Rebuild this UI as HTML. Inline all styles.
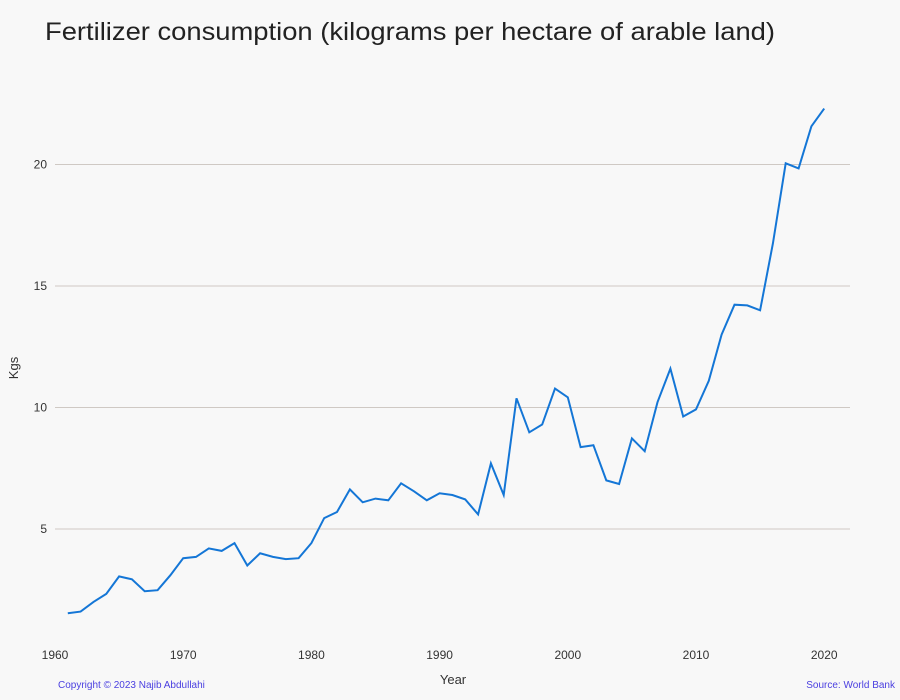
<!DOCTYPE html>
<html><head><meta charset="utf-8"><style>
body{margin:0;background:#f8f8f8;font-family:"Liberation Sans",sans-serif;}
svg{display:block}
</style></head><body>
<svg width="900" height="700">
<rect width="900" height="700" fill="#f8f8f8"/>
<text x="45" y="40" font-size="25" fill="#222" textLength="730" lengthAdjust="spacingAndGlyphs">Fertilizer consumption (kilograms per hectare of arable land)</text>
<g id="grid"></g><g id="xt"></g><g id="yt"></g>
<path id="line" fill="none" stroke="#1476d6" stroke-width="2"/>
<text x="18" y="368" font-size="13" fill="#333" transform="rotate(-90 18 368)" text-anchor="middle">Kgs</text>
<text x="453" y="684" font-size="13" fill="#333" text-anchor="middle">Year</text>
<text x="58" y="688" font-size="10" fill="#4a3fe0">Copyright © 2023 Najib Abdullahi</text>
<text x="895" y="688" font-size="10" fill="#4a3fe0" text-anchor="end">Source: World Bank</text>
</svg>
<script>
const years=[1961,1962,1963,1964,1965,1966,1967,1968,1969,1970,1971,1972,1973,1974,1975,1976,1977,1978,1979,1980,1981,1982,1983,1984,1985,1986,1987,1988,1989,1990,1991,1992,1993,1994,1995,1996,1997,1998,1999,2000,2001,2002,2003,2004,2005,2006,2007,2008,2009,2010,2011,2012,2013,2014,2015,2016,2017,2018,2019,2020];
const values=[1.53,1.6,2.0,2.33,3.05,2.93,2.44,2.48,3.1,3.8,3.85,4.2,4.1,4.42,3.5,4.0,3.85,3.76,3.8,4.42,5.45,5.7,6.63,6.1,6.25,6.18,6.88,6.55,6.18,6.47,6.4,6.22,5.6,7.7,6.4,10.38,8.98,9.3,10.78,10.42,8.37,8.45,7.0,6.85,8.73,8.2,10.22,11.6,9.63,9.92,11.1,13.0,14.23,14.2,14.0,16.75,20.05,19.84,21.57,22.3];
const xTicks=[1960,1970,1980,1990,2000,2010,2020];
const yTicks=[5,10,15,20];
const X=y=>55+(y-1960)*12.82;
const Y=v=>650.5-v*24.3;
const ns="http://www.w3.org/2000/svg";
const grid=document.getElementById('grid'),xt=document.getElementById('xt'),yt=document.getElementById('yt');
yTicks.forEach(t=>{
 const l=document.createElementNS(ns,'line');
 l.setAttribute('x1',55);l.setAttribute('x2',850);l.setAttribute('y1',Y(t));l.setAttribute('y2',Y(t));
 l.setAttribute('stroke','#cfc9c4');l.setAttribute('stroke-width','1');
 
 
 grid.appendChild(l);
 const tx=document.createElementNS(ns,'text');
 tx.setAttribute('x',47);tx.setAttribute('y',Y(t)+4);tx.setAttribute('text-anchor','end');
 tx.setAttribute('font-size','12');tx.setAttribute('fill','#333');tx.textContent=t;
 
 
 yt.appendChild(tx);
});
xTicks.forEach(t=>{
 const tx=document.createElementNS(ns,'text');
 tx.setAttribute('x',X(t));tx.setAttribute('y',659);tx.setAttribute('text-anchor','middle');
 tx.setAttribute('font-size','12');tx.setAttribute('fill','#333');tx.textContent=t;
 
 
 xt.appendChild(tx);
});
document.getElementById('line').setAttribute('d',years.map((y,i)=>(i?'L':'M')+X(y).toFixed(1)+','+Y(values[i]).toFixed(1)).join(''));
</script>
</body></html>
